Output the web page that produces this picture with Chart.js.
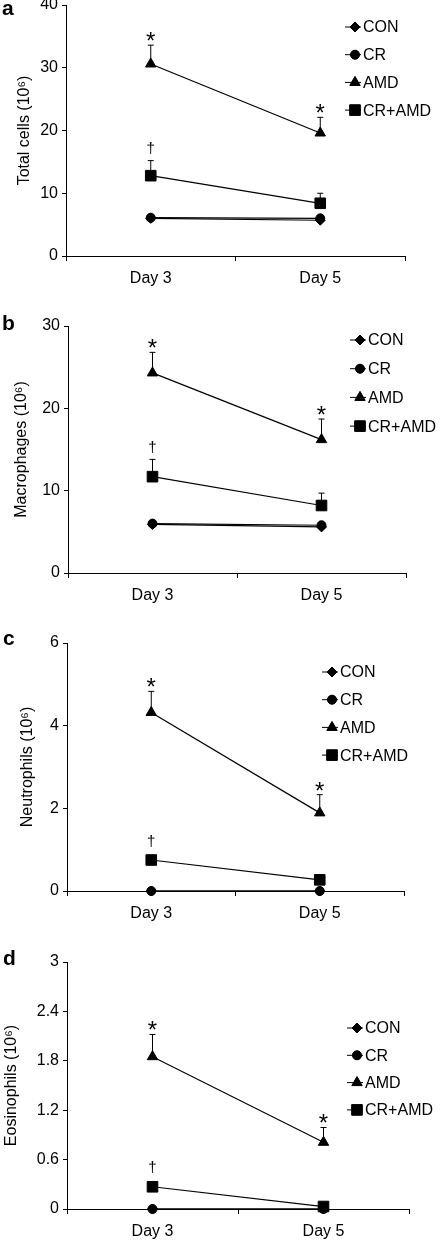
<!DOCTYPE html>
<html>
<head>
<meta charset="utf-8">
<script src="https://cdn.jsdelivr.net/npm/chart.js@4.4.1/dist/chart.umd.min.js"></script>
<style>
    html, body { margin: 0; padding: 0; background: #fff; }
    body { width: 442px; height: 1243px; position: relative; overflow: hidden; }
    canvas { position: absolute; left: 0; }
</style>
</head>
<body>
<canvas id="chartA"></canvas>
<canvas id="chartB"></canvas>
<canvas id="chartC"></canvas>
<canvas id="chartD"></canvas>
<script>
// ============================================
// DATA
// ============================================
const days = ['Day 3', 'Day 5'];
const seriesNames = ['CON', 'CR', 'AMD', 'CR+AMD'];
const pointStyles = ['rectRot', 'circle', 'triangle', 'rect'];
const pointSizes = [5, 4.5, 6, 7.5];

// a - total cells
const conA = [6.0, 5.7];
const crA = [6.1, 6.0];
const amdA = [30.6, 19.6];
const amdErrA = [3.0, 2.5];
const cramdA = [12.8, 8.4];
const cramdErrA = [2.4, 1.6];
const yTicksA = [0, 10, 20, 30, 40];

// b - macrophages
const conB = [5.9, 5.6];
const crB = [6.0, 5.8];
const amdB = [24.3, 16.2];
const amdErrB = [2.5, 2.5];
const cramdB = [11.7, 8.2];
const cramdErrB = [2.1, 1.5];
const yTicksB = [0, 10, 20, 30];

// c - neutrophils
const conC = [0, 0];
const crC = [0, 0];
const amdC = [4.32, 1.89];
const amdErrC = [0.51, 0.44];
const cramdC = [0.75, 0.27];
const cramdErrC = [0, 0];
const yTicksC = [0, 2, 4, 6];

// d - eosinophils
const conD = [0, 0];
const crD = [0, 0];
const amdD = [1.85, 0.81];
const amdErrD = [0.27, 0.18];
const cramdD = [0.27, 0.03];
const cramdErrD = [0, 0];
const yTicksD = [0, 0.6, 1.2, 1.8, 2.4, 3];

// significance marks: [series, day index, symbol]
const marks = [['AMD', 0, '*'], ['AMD', 1, '*'], ['CR+AMD', 0, '†']];

const FONT = "'Liberation Sans', Arial, sans-serif";

// ============================================
// PLUGIN: error bars, marks, legend, panel letter
// ============================================
const extrasPlugin = {
    id: 'extras',
    beforeDatasetsDraw(chart) {
        const ctx = chart.ctx;
        const y = chart.scales.y;
        chart.data.datasets.forEach((ds, i) => {
            if (!ds.errors) return;
            chart.getDatasetMeta(i).data.forEach((pt, j) => {
                const e = ds.errors[j];
                if (!e) return;
                const top = y.getPixelForValue(ds.data[j] + e);
                ctx.save();
                ctx.strokeStyle = '#000';
                ctx.lineWidth = 1;
                ctx.beginPath();
                ctx.moveTo(pt.x, pt.y);
                ctx.lineTo(pt.x, top);
                ctx.moveTo(pt.x - 3, top);
                ctx.lineTo(pt.x + 3, top);
                ctx.stroke();
                ctx.restore();
            });
        });
    },
    afterDraw(chart, args, opts) {
        const ctx = chart.ctx;
        const y = chart.scales.y;
        ctx.save();
        ctx.fillStyle = '#000';

        // panel letter
        ctx.font = `bold 21px ${FONT}`;
        ctx.textAlign = 'left';
        ctx.textBaseline = 'alphabetic';
        ctx.fillText(opts.letter, opts.letterX, opts.letterY);

        // significance marks
        marks.forEach(([name, j, sym]) => {
            const i = chart.data.datasets.findIndex(d => d.label === name);
            const ds = chart.data.datasets[i];
            const pt = chart.getDatasetMeta(i).data[j];
            const e = ds.errors ? ds.errors[j] : 0;
            const base = e ? y.getPixelForValue(ds.data[j] + e) : pt.y - 7;
            ctx.textAlign = 'center';
            ctx.textBaseline = 'alphabetic';
            if (sym === '*') {
                ctx.font = `24px ${FONT}`;
                ctx.fillText(sym, pt.x, base - 10 + 14);
            } else {
                ctx.font = `15px ${FONT}`;
                ctx.fillText(sym, pt.x, base - 12 + 4.5);
            }
        });

        // legend
        ctx.font = `16px ${FONT}`;
        ctx.textAlign = 'left';
        ctx.textBaseline = 'middle';
        chart.data.datasets.forEach((ds, i) => {
            const ly = opts.legendY + i * opts.legendGap;
            const lx = opts.legendX;
            ctx.strokeStyle = '#000';
            ctx.lineWidth = 1;
            ctx.beginPath();
            ctx.moveTo(lx, ly);
            ctx.lineTo(lx + 16, ly);
            ctx.stroke();
            Chart.helpers.drawPoint(ctx, {
                pointStyle: ds.pointStyle, radius: ds.pointRadius, rotation: 0, borderWidth: 1
            }, lx + 10, ly);
            ctx.fillStyle = '#000';
            ctx.fill();
            ctx.fillText(ds.label, lx + 18, ly + 1);
        });
        ctx.restore();
    }
};

// ============================================
// BUILD ONE PANEL
// ============================================
function makePanel(id, panel) {
    const canvas = document.getElementById(id);
    canvas.style.top = panel.top + 'px';
    canvas.width = 442;
    canvas.height = panel.height;
    canvas.style.width = '442px';
    canvas.style.height = panel.height + 'px';

    const values = [panel.con, panel.cr, panel.amd, panel.cramd];
    const errors = [null, null, panel.amdErr, panel.cramdErr];
    const datasets = seriesNames.map((name, i) => ({
        label: name,
        data: values[i],
        errors: errors[i],
        borderColor: '#000',
        backgroundColor: '#000',
        borderWidth: 1.2,
        pointStyle: pointStyles[i],
        pointRadius: pointSizes[i],
        pointBorderWidth: 1,
        pointBackgroundColor: '#000',
        pointBorderColor: '#000',
        tension: 0,
        clip: false
    }));

    const ticks = panel.yTicks;
    return new Chart(canvas, {
        type: 'line',
        data: { labels: days, datasets: datasets },
        plugins: [extrasPlugin],
        options: {
            responsive: false,
            animation: false,
            events: [],
            layout: {
                padding: { top: panel.area.t - panel.top, right: 442 - panel.area.r, bottom: 0, left: 0 }
            },
            plugins: {
                legend: { display: false },
                tooltip: { enabled: false },
                extras: panel.extras
            },
            scales: {
                x: {
                    type: 'category',
                    offset: true,
                    grid: { drawOnChartArea: false, drawTicks: true, tickLength: 5, color: '#000', offset: true },
                    border: { color: '#000', width: 1 },
                    ticks: { color: '#000', font: { family: FONT, size: 16 }, padding: 8, maxRotation: 0 },
                    afterFit: s => { s.height = panel.top + panel.height - panel.area.b; }
                },
                y: {
                    min: ticks[0],
                    max: ticks[ticks.length - 1],
                    afterBuildTicks: s => { s.ticks = ticks.map(v => ({ value: v })); },
                    grid: { drawOnChartArea: false, drawTicks: true, tickLength: 4, color: '#000' },
                    border: { color: '#000', width: 1 },
                    ticks: {
                        color: '#000', font: { family: FONT, size: 16 }, padding: 4,
                        callback: v => String(v)
                    },
                    title: {
                        display: true,
                        text: panel.title,
                        color: '#000',
                        font: { family: FONT, size: 16 },
                        padding: { top: panel.titlePad, bottom: 0 }
                    },
                    afterFit: s => { s.width = panel.area.l; }
                }
            }
        }
    });
}

makePanel('chartA', {
    top: -20, height: 320,
    area: { l: 66, t: 5, r: 405, b: 256 },
    con: conA, cr: crA, amd: amdA, amdErr: amdErrA, cramd: cramdA, cramdErr: cramdErrA,
    yTicks: yTicksA, title: 'Total cells (10\u2076)', titlePad: 15,
    extras: { letter: 'a', letterX: 2, letterY: 35, legendX: 345, legendY: 47, legendGap: 27.7 }
});

makePanel('chartB', {
    top: 290, height: 320,
    area: { l: 68, t: 326, r: 406, b: 573 },
    con: conB, cr: crB, amd: amdB, amdErr: amdErrB, cramd: cramdB, cramdErr: cramdErrB,
    yTicks: yTicksB, title: 'Macrophages (10\u2076)', titlePad: 12,
    extras: { letter: 'b', letterX: 2, letterY: 40, legendX: 350, legendY: 50, legendGap: 28.7 }
});

makePanel('chartC', {
    top: 600, height: 330,
    area: { l: 67, t: 643, r: 404, b: 891 },
    con: conC, cr: crC, amd: amdC, amdErr: amdErrC, cramd: cramdC, cramdErr: cramdErrC,
    yTicks: yTicksC, title: 'Neutrophils (10\u2076)', titlePad: 18,
    extras: { letter: 'c', letterX: 3, letterY: 45, legendX: 322, legendY: 72, legendGap: 27.7 }
});

makePanel('chartD', {
    top: 920, height: 323,
    area: { l: 67, t: 962, r: 409, b: 1209 },
    con: conD, cr: crD, amd: amdD, amdErr: amdErrD, cramd: cramdD, cramdErr: cramdErrD,
    yTicks: yTicksD, title: 'Eosinophils (10\u2076)', titlePad: 2,
    extras: { letter: 'd', letterX: 3, letterY: 45, legendX: 347, legendY: 108, legendGap: 27.3 }
});
</script>
</body>
</html>
